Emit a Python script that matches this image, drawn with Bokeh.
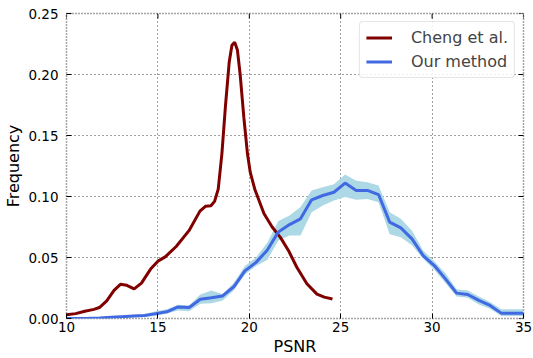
import math
from bokeh.plotting import figure
from bokeh.models import FixedTicker, NumeralTickFormatter, Range1d, Legend, LegendItem
from bokeh.embed import file_html
from bokeh.resources import INLINE

# Cheng et al. (smooth density)
cheng_x = [10.0, 10.5, 11.0, 11.5, 11.8, 12.2, 12.6, 12.95, 13.3, 13.7, 14.1, 14.6, 15.0, 15.4,
           16.0, 16.7, 17.3, 17.6, 17.9, 18.1, 18.3, 18.5, 18.7, 18.9, 19.05, 19.2, 19.35, 19.5,
           19.7, 19.9, 20.05, 20.3, 20.8, 21.25, 21.7, 22.15, 22.6, 23.15, 23.7, 24.1, 24.55]
cheng_y = [0.0030, 0.0040, 0.0060, 0.0075, 0.0090, 0.0145, 0.0230, 0.0280, 0.0272, 0.0243, 0.0290,
           0.0405, 0.0470, 0.0505, 0.0590, 0.0720, 0.0880, 0.0920, 0.0925, 0.0960, 0.1060, 0.1350,
           0.1750, 0.2100, 0.2240, 0.2265, 0.2200, 0.2000, 0.1650, 0.1350, 0.1200, 0.1060, 0.0860,
           0.0750, 0.0665, 0.0555, 0.0420, 0.0285, 0.0200, 0.0175, 0.0160]

# Our method (mean with band)
our_x = [10.00, 10.61, 11.22, 11.83, 12.44, 13.05, 13.66, 14.27, 14.88, 15.49, 16.10, 16.71, 17.32,
         17.93, 18.54, 19.15, 19.76, 20.37, 20.98, 21.59, 22.20, 22.80, 23.41, 24.02, 24.63, 25.24,
         25.85, 26.46, 27.07, 27.68, 28.29, 28.90, 29.51, 30.12, 30.73, 31.34, 31.95, 32.56, 33.17,
         33.78, 34.39, 35.00]
our_mean = [0.0000, 0.0000, 0.0002, 0.0005, 0.0010, 0.0015, 0.0020, 0.0025, 0.0040, 0.0055, 0.0095,
            0.0090, 0.0158, 0.0170, 0.0185, 0.0260, 0.0390, 0.0460, 0.0560, 0.0710, 0.0770, 0.0817,
            0.0973, 0.1008, 0.1035, 0.1110, 0.1050, 0.1050, 0.1016, 0.0790, 0.0743, 0.0653, 0.0516,
            0.0434, 0.0325, 0.0208, 0.0197, 0.0148, 0.0107, 0.0044, 0.0044, 0.0044]
our_upper = [0.0008, 0.0008, 0.0010, 0.0013, 0.0020, 0.0025, 0.0030, 0.0035, 0.0060, 0.0075, 0.0112,
             0.0107, 0.0197, 0.0230, 0.0200, 0.0290, 0.0430, 0.0500, 0.0620, 0.0800, 0.0845, 0.0913,
             0.1050, 0.1076, 0.1100, 0.1180, 0.1130, 0.1117, 0.1090, 0.0870, 0.0817, 0.0720, 0.0557,
             0.0470, 0.0370, 0.0240, 0.0230, 0.0180, 0.0135, 0.0075, 0.0075, 0.0075]
our_lower = [0.0000, 0.0000, 0.0000, 0.0000, 0.0003, 0.0007, 0.0010, 0.0015, 0.0020, 0.0040, 0.0066,
             0.0060, 0.0120, 0.0125, 0.0148, 0.0230, 0.0360, 0.0430, 0.0480, 0.0640, 0.0680, 0.0680,
             0.0870, 0.0926, 0.0967, 0.0995, 0.0973, 0.0980, 0.0953, 0.0690, 0.0667, 0.0600, 0.0490,
             0.0400, 0.0290, 0.0180, 0.0170, 0.0115, 0.0080, 0.0020, 0.0020, 0.0020]

x_ticks = [10, 15, 20, 25, 30, 35]
y_ticks = [0.0, 0.05, 0.10, 0.15, 0.20, 0.25]
x_lim = (10, 35)
y_lim = (0.0, 0.25)
series_names = ["Cheng et al.", "Our method"]

FONT = "DejaVu Sans"

p = figure(width=533, height=358, output_backend="svg", toolbar_location=None,
           x_range=Range1d(*x_lim), y_range=Range1d(*y_lim),
           min_border_left=66, min_border_right=10, min_border_top=13, min_border_bottom=40)

band = p.varea(x=our_x, y1=our_lower, y2=our_upper, fill_color="#add8e6", fill_alpha=1.0)
r_cheng = p.line(cheng_x, cheng_y, line_color="#800000", line_width=3)
r_our = p.line(our_x, our_mean, line_color="#4169e1", line_width=3)

# grid
for g in (p.xgrid[0], p.ygrid[0]):
    g.grid_line_color = "black"
    g.grid_line_alpha = 0.75
    g.grid_line_dash = "1 3"
    g.grid_line_width = 1
p.xgrid[0].ticker = FixedTicker(ticks=x_ticks)
p.ygrid[0].ticker = FixedTicker(ticks=y_ticks)

p.outline_line_color = "black"
p.outline_line_alpha = 0.7
p.outline_line_dash = "1 2"
p.outline_line_width = 1.5

xa = p.xaxis[0]
xa.ticker = FixedTicker(ticks=x_ticks)
xa.axis_label = "PSNR"
ya = p.yaxis[0]
ya.ticker = FixedTicker(ticks=y_ticks)
ya.formatter = NumeralTickFormatter(format="0.00")
ya.axis_label = "Frequency"

for ax in (xa, ya):
    ax.axis_line_color = None
    ax.major_tick_in = 5
    ax.major_tick_out = 0
    ax.major_tick_line_color = "black"
    ax.minor_tick_line_color = None
    ax.major_label_text_font = FONT
    ax.major_label_text_font_size = "13.5px"
    ax.major_label_text_color = "black"
    ax.axis_label_text_font = FONT
    ax.axis_label_text_font_size = "16px"
    ax.axis_label_text_font_style = "normal"
    ax.axis_label_text_color = "black"
xa.major_label_standoff = 3
xa.axis_label_standoff = 2
ya.major_label_standoff = 8
ya.axis_label_standoff = 2

# mirrored inward ticks on the top and right edges
p.ray(x=x_ticks, y=[y_lim[1]] * len(x_ticks), length=5, length_units="screen",
      angle=-math.pi / 2, line_color="black", line_width=1)
p.ray(x=[x_lim[1]] * len(y_ticks), y=y_ticks, length=5, length_units="screen",
      angle=math.pi, line_color="black", line_width=1)

legend = Legend(items=[LegendItem(label=series_names[0], renderers=[r_cheng]),
                       LegendItem(label=series_names[1], renderers=[r_our])],
                location="top_right")
legend.label_text_font = FONT
legend.label_text_font_size = "16px"
legend.glyph_width = 26
legend.glyph_height = 19
legend.label_height = 19
legend.label_standoff = 19
legend.spacing = 5
legend.padding = 6
legend.margin = 8
legend.border_line_color = "#cccccc"
legend.border_line_width = 1
legend.border_radius = 4
legend.background_fill_alpha = 0.85
p.add_layout(legend)

open("out.html", "w").write(file_html(p, INLINE))
